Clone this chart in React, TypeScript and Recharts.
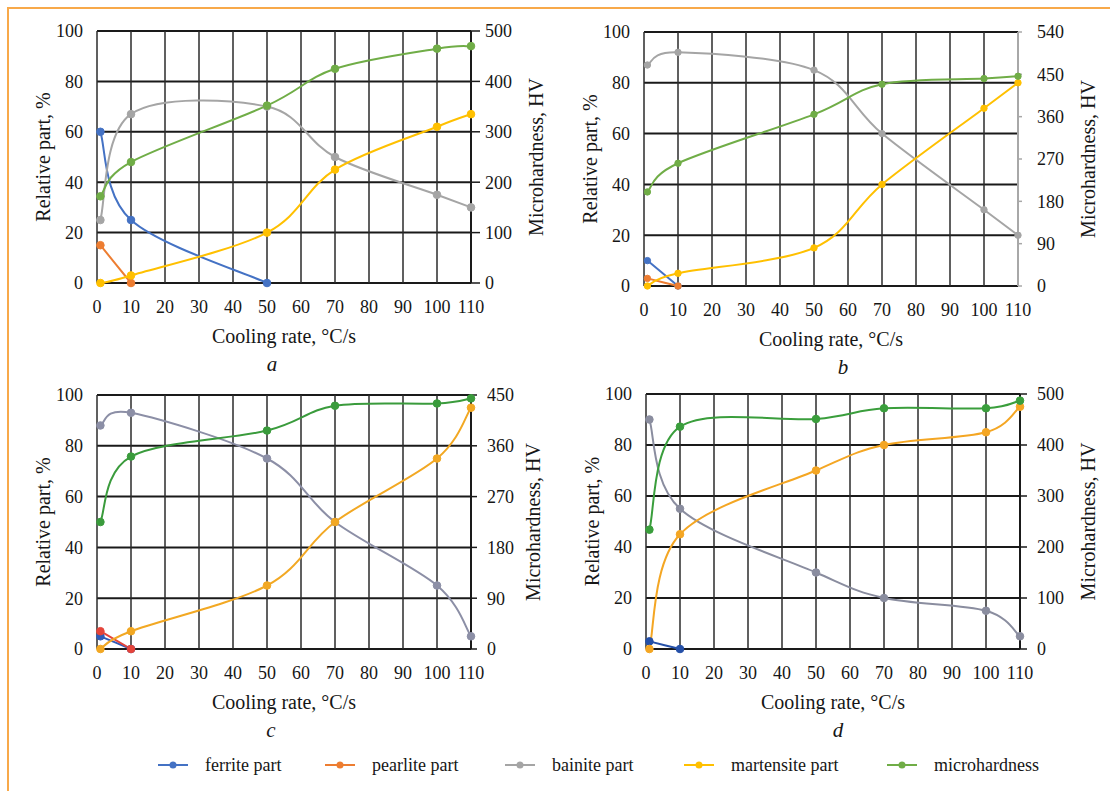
import React from 'react';
import { LineChart, Line, XAxis, YAxis, CartesianGrid, Label } from 'recharts';

// cooling rates where the samples were measured
const rates = [1, 10, 50, 70, 100, 110];
const rateTicks = [0, 10, 20, 30, 40, 50, 60, 70, 80, 90, 100, 110];
const partTicks = [0, 20, 40, 60, 80, 100];

// panel a
const ferriteA = [60, 25, 0];
const pearliteA = [15, 0];
const bainiteA = [25, 67, 70, 50, 35, 30];
const martensiteA = [0, 3, 20, 45, 62, 67];
const hardnessA = [172, 240, 352, 425, 465, 470];
const hvTicksA = [0, 100, 200, 300, 400, 500];

// panel b
const ferriteB = [10, 0];
const pearliteB = [3, 0];
const bainiteB = [87, 92, 85, 60, 30, 20];
const martensiteB = [0, 5, 15, 40, 70, 80];
const hardnessB = [200, 261, 365, 429, 441, 446];
const hvTicksB = [0, 90, 180, 270, 360, 450, 540];

// panel c
const ferriteC = [5, 0];
const pearliteC = [7, 0];
const bainiteC = [88, 93, 75, 50, 25, 5];
const martensiteC = [0, 7, 25, 50, 75, 95];
const hardnessC = [225, 341, 387, 431, 435, 444];
const hvTicksC = [0, 90, 180, 270, 360, 450];

// panel d
const ferriteD = [3, 0];
const pearliteD: number[] = [];
const bainiteD = [90, 55, 30, 20, 15, 5];
const martensiteD = [0, 45, 70, 80, 85, 95];
const hardnessD = [234, 436, 451, 472, 472, 487];
const hvTicksD = [0, 100, 200, 300, 400, 500];

const seriesNames = ['ferrite part', 'pearlite part', 'bainite part', 'martensite part', 'microhardness'];
const legendColors = ['#4472C4', '#ED7D31', '#A5A5A5', '#FFC000', '#70AD47'];

const toPoints = (vals: number[]) => vals.map((y, i) => ({ x: rates[i], y }));

// Excel-style smoothed line (cardinal spline, 1/6 control points)
const excelCurve = (context: any) => {
  let pts: number[][] = [];
  return {
    areaStart() {},
    areaEnd() {},
    lineStart() {
      pts = [];
    },
    lineEnd() {
      if (!pts.length) return;
      context.moveTo(pts[0][0], pts[0][1]);
      for (let i = 0; i < pts.length - 1; i++) {
        const p0 = pts[Math.max(i - 1, 0)];
        const p1 = pts[i];
        const p2 = pts[i + 1];
        const p3 = pts[Math.min(i + 2, pts.length - 1)];
        context.bezierCurveTo(
          p1[0] + (p2[0] - p0[0]) / 6,
          p1[1] + (p2[1] - p0[1]) / 6,
          p2[0] - (p3[0] - p1[0]) / 6,
          p2[1] - (p3[1] - p1[1]) / 6,
          p2[0],
          p2[1],
        );
      }
    },
    point(x: number, y: number) {
      pts.push([+x, +y]);
    },
  };
};

const FONT = '"Liberation Serif", "DejaVu Serif", "Times New Roman", serif';
const TEXT = '#161616';
const tickStyle = { fontSize: 18, fill: TEXT, fontFamily: FONT };
const titleStyle = { fontSize: 20, fill: TEXT, fontFamily: FONT };

interface PanelProps {
  left: number;
  top: number;
  margin: { top: number; right: number; bottom: number; left: number };
  letter: string;
  letterDx: number;
  rightTitleDx: number;
  hvTicks: number[];
  rightAxisColor: string;
  rightTickSize: number;
  rightTickMargin: number;
  colors: string[];
  series: number[][];
  dotR: number;
}

const Panel: React.FC<PanelProps> = (p) => {
  const hvMax = p.hvTicks[p.hvTicks.length - 1];
  return (
    <div style={{ position: 'absolute', left: p.left, top: p.top }}>
      <LineChart width={550} height={380} margin={p.margin} style={{ fontFamily: FONT }}>
        <CartesianGrid horizontal vertical={false} stroke="#1a1a1a" strokeWidth={2} />
        <CartesianGrid horizontal={false} vertical stroke="#2b2b2b" strokeWidth={1.5} />
        <XAxis
          type="number"
          dataKey="x"
          domain={[0, 110]}
          ticks={rateTicks}
          axisLine={false}
          tickLine={false}
          tickSize={0}
          tickMargin={17}
          height={30}
          tick={tickStyle}
        >
          <Label value="Cooling rate, °C/s" position="center" dy={38} style={titleStyle} />
          <Label
            value={p.letter}
            position="center"
            dx={p.letterDx}
            dy={66}
            style={{ ...titleStyle, fontSize: 21, fontStyle: 'italic' }}
          />
        </XAxis>
        <YAxis
          type="number"
          domain={[0, 100]}
          ticks={partTicks}
          axisLine={false}
          tickLine={false}
          tickSize={0}
          tickMargin={14}
          width={50}
          tick={tickStyle}
        >
          <Label value="Relative part, %" angle={-90} position="center" dx={-29} style={titleStyle} />
        </YAxis>
        <YAxis
          yAxisId="hv"
          orientation="right"
          type="number"
          domain={[0, hvMax]}
          ticks={p.hvTicks}
          axisLine={{ stroke: p.rightAxisColor, strokeWidth: 2 }}
          tickLine={{ stroke: p.rightAxisColor, strokeWidth: 1.5 }}
          tickSize={p.rightTickSize}
          tickMargin={p.rightTickMargin}
          width={50}
          tick={tickStyle}
        >
          <Label value="Microhardness, HV" angle={-90} position="center" dx={p.rightTitleDx} style={titleStyle} />
        </YAxis>
        {p.series.map((vals, i) =>
          vals.length ? (
            <Line
              key={seriesNames[i]}
              name={seriesNames[i]}
              data={toPoints(vals)}
              dataKey="y"
              yAxisId={i === 4 ? 'hv' : 0}
              type={excelCurve as any}
              stroke={p.colors[i]}
              strokeWidth={2}
              dot={{ r: p.dotR, fill: p.colors[i], stroke: p.colors[i], strokeWidth: 1 }}
              activeDot={false}
              isAnimationActive={false}
            />
          ) : null,
        )}
      </LineChart>
    </div>
  );
};

const App: React.FC = () => {
  return (
    <div
      style={{
        position: 'absolute',
        left: 0,
        top: 0,
        width: 1110,
        height: 791,
        background: '#fff',
        fontFamily: FONT,
        overflow: 'hidden',
      }}
    >
      <div
        style={{
          position: 'absolute',
          left: 7,
          top: 7,
          width: 1110,
          height: 800,
          borderTop: '2px solid #F8A94A',
          borderLeft: '2px solid #F8A94A',
        }}
      />
      <Panel
        left={0}
        top={0}
        margin={{ top: 31, right: 29, bottom: 67, left: 47 }}
        letter="a"
        letterDx={-12}
        rightTitleDx={40}
        hvTicks={hvTicksA}
        rightAxisColor="#1a1a1a"
        rightTickSize={9}
        rightTickMargin={5}
        colors={['#4472C4', '#ED7D31', '#A5A5A5', '#FFC000', '#70AD47']}
        series={[ferriteA, pearliteA, bainiteA, martensiteA, hardnessA]}
        dotR={3.8}
      />
      <Panel
        left={550}
        top={0}
        margin={{ top: 32, right: 32, bottom: 64, left: 44 }}
        letter="b"
        letterDx={12}
        rightTitleDx={45}
        hvTicks={hvTicksB}
        rightAxisColor="#a8a8a8"
        rightTickSize={4}
        rightTickMargin={15}
        colors={['#4472C4', '#ED7D31', '#A5A5A5', '#FFC000', '#70AD47']}
        series={[ferriteB, pearliteB, bainiteB, martensiteB, hardnessB]}
        dotR={3.2}
      />
      <Panel
        left={0}
        top={370}
        margin={{ top: 25, right: 29, bottom: 71, left: 47 }}
        letter="c"
        letterDx={-13}
        rightTitleDx={37}
        hvTicks={hvTicksC}
        rightAxisColor="#1a1a1a"
        rightTickSize={6}
        rightTickMargin={10}
        colors={['#2F5BB7', '#E5443A', '#8C8FA6', '#F2A823', '#3A9B3C']}
        series={[ferriteC, pearliteC, bainiteC, martensiteC, hardnessC]}
        dotR={3.8}
      />
      <Panel
        left={550}
        top={370}
        margin={{ top: 24, right: 30, bottom: 71, left: 46 }}
        letter="d"
        letterDx={5}
        rightTitleDx={43}
        hvTicks={hvTicksD}
        rightAxisColor="#1a1a1a"
        rightTickSize={7}
        rightTickMargin={10}
        colors={['#2550A8', '#E5443A', '#8A8D9F', '#F4A623', '#3A9E3C']}
        series={[ferriteD, pearliteD, bainiteD, martensiteD, hardnessD]}
        dotR={3.8}
      />
      {seriesNames.map((name, i) => (
        <div
          key={name}
          style={{
            position: 'absolute',
            left: [158, 325, 505, 684, 887][i],
            top: 753,
            height: 24,
            display: 'flex',
            alignItems: 'center',
            fontSize: 18,
            color: TEXT,
            whiteSpace: 'nowrap',
          }}
        >
          <svg width={30} height={10} style={{ marginRight: 17 }}>
            <line x1={0} y1={5} x2={30} y2={5} stroke={legendColors[i]} strokeWidth={2} />
            <circle cx={15} cy={5} r={3.5} fill={legendColors[i]} />
          </svg>
          {name}
        </div>
      ))}
    </div>
  );
};

export default App;
